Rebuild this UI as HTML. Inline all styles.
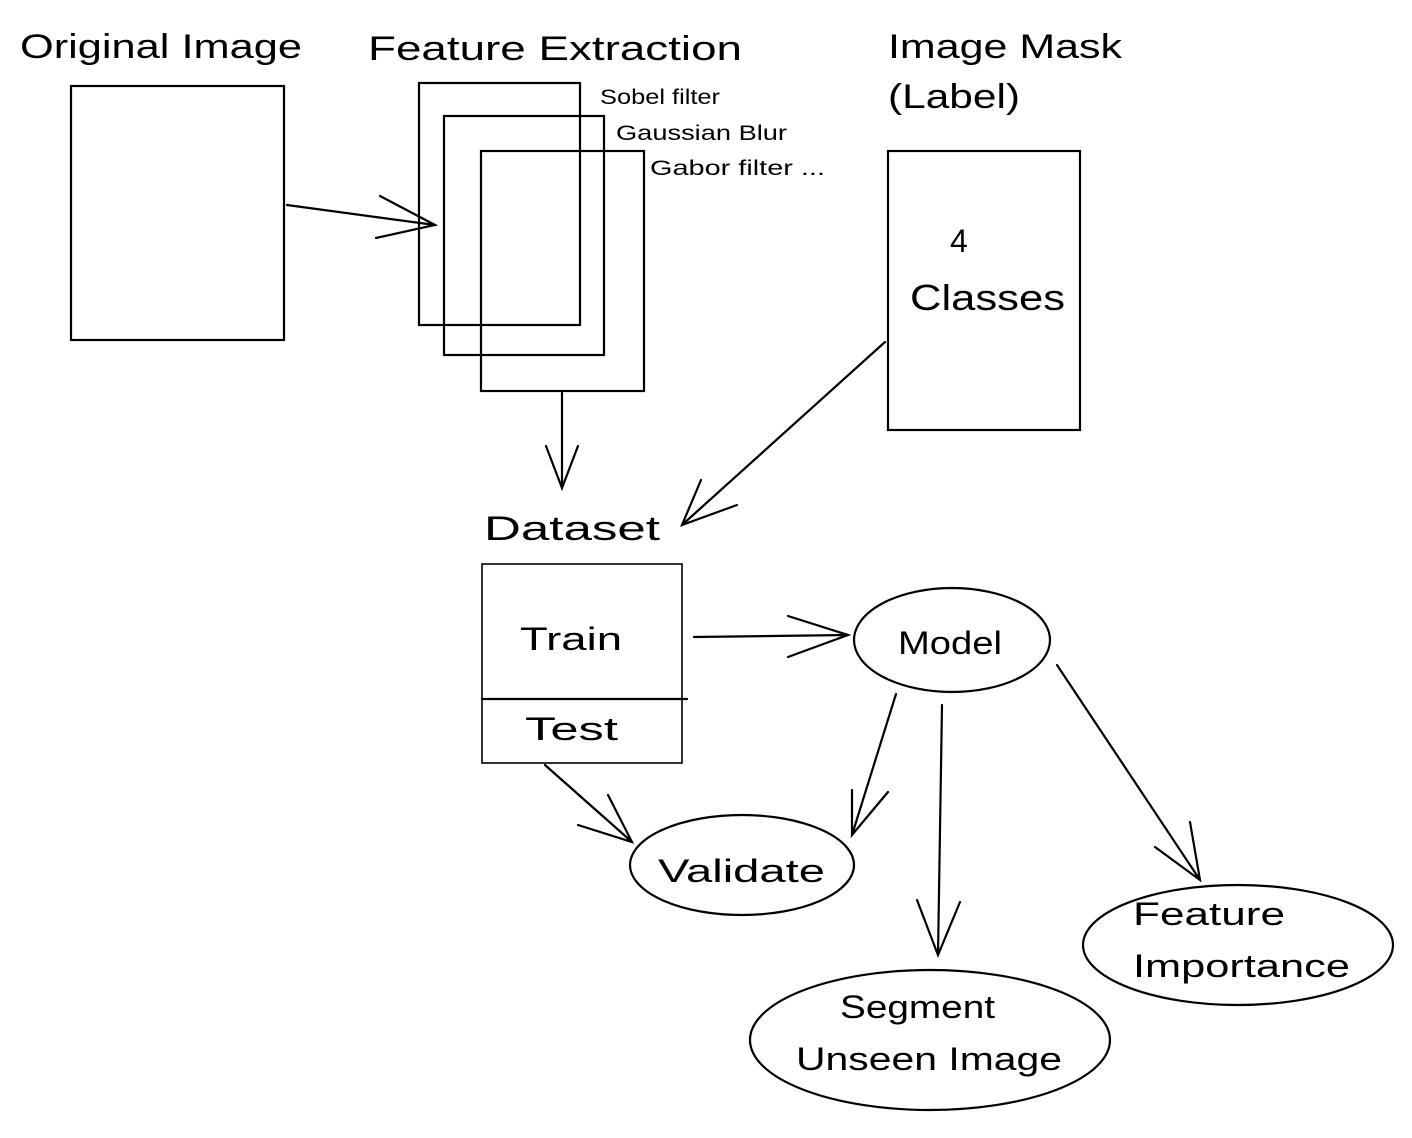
<!DOCTYPE html>
<html><head><meta charset="utf-8"><style>
html,body{margin:0;padding:0;background:#fff;}
svg{display:block}
text{font-family:"Liberation Sans",sans-serif;fill:#000;}
</style></head><body>
<svg width="1412" height="1138" viewBox="0 0 1412 1138" xmlns="http://www.w3.org/2000/svg">
<g fill="none" stroke="#000" stroke-width="2.2" stroke-linecap="round">
<!-- original image -->
<rect x="71" y="86" width="213" height="254"/>
<!-- feature rects -->
<rect x="419" y="83" width="161" height="242"/>
<rect x="444" y="116" width="160" height="239"/>
<rect x="481" y="151" width="163" height="240"/>
<!-- mask -->
<rect x="888" y="151" width="192" height="279"/>
<!-- dataset -->
<rect x="482" y="564" width="200" height="199" stroke-width="1.6"/>
<line x1="482" y1="699" x2="687" y2="699"/>
<!-- arrows -->
<path d="M287 205 L435 225 M380 196 L435 225 L376 238"/>
<path d="M562 393 L562 488 M546 446 L562 488 L578 446"/>
<path d="M885 342 L682 525 M701 480 L682 525 L737 505"/>
<path d="M694 637 L848 635 M788 616 L848 635 L788 657"/>
<path d="M896 694 L852 835 M852 790 L852 835 L888 792"/>
<path d="M942 705 L938 955 M917 900 L938 955 L960 902"/>
<path d="M1057 665 L1200 880 M1155 847 L1200 880 L1190 822"/>
<path d="M545 765 L632 842 M578 825 L632 842 L608 795"/>
<!-- ellipses -->
<ellipse cx="952" cy="640" rx="98" ry="52"/>
<ellipse cx="742" cy="865" rx="112" ry="50"/>
<ellipse cx="930" cy="1040" rx="180" ry="70"/>
<ellipse cx="1238" cy="945" rx="155" ry="60"/>
</g>
<text x="20" y="58" font-size="34" textLength="282" lengthAdjust="spacingAndGlyphs">Original Image</text>
<text x="368" y="60" font-size="34" textLength="374" lengthAdjust="spacingAndGlyphs">Feature Extraction</text>
<text x="888" y="58" font-size="34" textLength="234" lengthAdjust="spacingAndGlyphs">Image Mask</text>
<text x="888" y="108" font-size="34" textLength="132" lengthAdjust="spacingAndGlyphs">(Label)</text>
<text x="600" y="104" font-size="21" textLength="120" lengthAdjust="spacingAndGlyphs">Sobel filter</text>
<text x="616" y="140" font-size="21" textLength="171" lengthAdjust="spacingAndGlyphs">Gaussian Blur</text>
<text x="650" y="175" font-size="21" textLength="175" lengthAdjust="spacingAndGlyphs">Gabor filter ...</text>
<text x="950" y="252" font-size="32">4</text>
<text x="910" y="310" font-size="36" textLength="155" lengthAdjust="spacingAndGlyphs">Classes</text>
<text x="484" y="540" font-size="34" textLength="176" lengthAdjust="spacingAndGlyphs">Dataset</text>
<text x="520" y="650" font-size="32" textLength="102" lengthAdjust="spacingAndGlyphs">Train</text>
<text x="525" y="740" font-size="32" textLength="93" lengthAdjust="spacingAndGlyphs">Test</text>
<text x="898" y="654" font-size="32" textLength="104" lengthAdjust="spacingAndGlyphs">Model</text>
<text x="658" y="882" font-size="32" textLength="167" lengthAdjust="spacingAndGlyphs">Validate</text>
<text x="840" y="1018" font-size="32" textLength="155" lengthAdjust="spacingAndGlyphs">Segment</text>
<text x="796" y="1070" font-size="32" textLength="266" lengthAdjust="spacingAndGlyphs">Unseen Image</text>
<text x="1133" y="925" font-size="32" textLength="152" lengthAdjust="spacingAndGlyphs">Feature</text>
<text x="1133" y="977" font-size="32" textLength="217" lengthAdjust="spacingAndGlyphs">Importance</text>
</svg>
</body></html>
